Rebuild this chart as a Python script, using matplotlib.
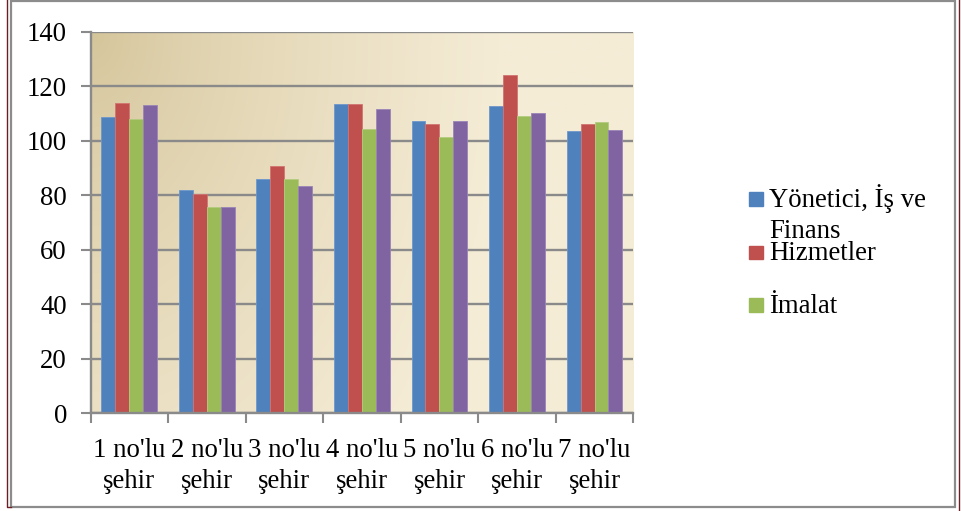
import numpy as np
import matplotlib.pyplot as plt
from matplotlib.lines import Line2D
from matplotlib.patches import Rectangle

# sehir bazinda endeks degerleri
sehirler = ["1 no'lu\nşehir", "2 no'lu\nşehir", "3 no'lu\nşehir", "4 no'lu\nşehir",
            "5 no'lu\nşehir", "6 no'lu\nşehir", "7 no'lu\nşehir"]
yonetici = [108.8, 82.0, 86.0, 113.5, 107.2, 112.6, 103.4]
hizmetler = [113.7, 80.6, 90.6, 113.5, 106.0, 124.2, 106.1]
imalat = [108.1, 75.6, 86.0, 104.2, 101.3, 109.2, 106.8]
diger = [113.1, 75.6, 83.5, 111.6, 107.2, 110.0, 104.0]

seriler = [yonetici, hizmetler, imalat, diger]
renkler = ['#4f81bd', '#c0504d', '#9bbb59', '#8064a2']
kenarlar = ['#6d97cc', '#d27472', '#b2cc7e', '#9a84b8']
etiketler = ["Yönetici, İş ve\nFinans", "Hizmetler", "İmalat"]
yticks = [0, 20, 40, 60, 80, 100, 120, 140]

plt.rcParams['font.family'] = ['Liberation Serif', 'DejaVu Serif']
FS = 19.3
W, H = 961, 511

fig = plt.figure(figsize=(W / 100, H / 100), dpi=100)
x0, x1, ytop, ybot = 90.5, 633.3, 31.7, 413.3
ax = fig.add_axes([x0 / W, (H - ybot) / H, (x1 - x0) / W, (ybot - ytop) / H])

# arka plan gecisi (sol ust koyu bej -> sag alt krem)
nx, ny = 300, 200
gx, gy = np.meshgrid(np.linspace(0, 1, nx), np.linspace(0, 1, ny))
t = np.clip(np.sqrt((gx / 0.75) ** 2 + (gy / 1.6) ** 2), 0, 1) ** 0.75
c0 = np.array([212, 196, 153]) / 255
c1 = np.array([245, 236, 214]) / 255
img = c0[None, None, :] * (1 - t[..., None]) + c1[None, None, :] * t[..., None]
ax.imshow(img, extent=[0, 1, 0, 1], transform=ax.transAxes, aspect='auto',
          zorder=0, interpolation='bilinear')

n = len(sehirler)
x = np.arange(n)
w = 0.18
for i, (vals, c, ec) in enumerate(zip(seriler, renkler, kenarlar)):
    ax.bar(x + (i - 1.5) * w, vals, w, color=c, edgecolor=ec, linewidth=0.6, zorder=3)

ax.set_xlim(-0.5, n - 0.5)
ax.set_ylim(0, 140)
ax.set_yticks(yticks)
ax.set_yticklabels([str(v) for v in yticks], fontsize=FS)
ax.yaxis.grid(True, color='#8a8a8a', linewidth=1.7)
for gl in ax.get_ygridlines():
    gl.set_zorder(1)
ax.set_xticks(x)
ax.set_xticklabels(sehirler, fontsize=FS, linespacing=1.33)
ax.set_xticks(np.arange(n + 1) - 0.5, minor=True)
ax.tick_params(axis='x', which='major', length=0, pad=17.5)
ax.tick_params(axis='x', which='minor', length=7, width=1.5, color='#8a8a8a')
ax.tick_params(axis='y', length=7, width=1.5, color='#8a8a8a', pad=10)
for s in ['top', 'right']:
    ax.spines[s].set_visible(False)
for s in ['left', 'bottom']:
    ax.spines[s].set_color('#8a8a8a')
    ax.spines[s].set_linewidth(1.7)
    ax.spines[s].set_zorder(4)

# lejant: mor seri lejantta yer almiyor
leg_y = [206.7, 260.0, 312.7]
for lbl, c, yb in zip(etiketler, renkler, leg_y):
    fig.patches.append(Rectangle((749.3 / W, (H - yb + 1) / H), 13.4 / W, 13.4 / H,
                                 transform=fig.transFigure, color=c))
    fig.text(769.3 / W, (H - yb) / H, lbl.split('\n')[0], fontsize=FS, va='baseline')
    if '\n' in lbl:
        fig.text(769.3 / W, (H - yb - 31.5) / H, lbl.split('\n')[1], fontsize=FS,
                 va='baseline')

# cerceveler
fig.patches.append(Rectangle((10.5 / W, (H - 507) / H), 944.5 / W, 506 / H,
                             transform=fig.transFigure, fill=False,
                             edgecolor='#8c8c8c', linewidth=1.6))
fig.lines.append(Line2D([6.5 / W, 6.5 / W, 10.5 / W], [1, (H - 507) / H, (H - 507) / H],
                        transform=fig.transFigure, color='#6b1f24', linewidth=1))
fig.lines.append(Line2D([959 / W, 959 / W], [1, 0], transform=fig.transFigure,
                        color='#6b1f24', linewidth=1))

fig.savefig('out.png', dpi=100)
